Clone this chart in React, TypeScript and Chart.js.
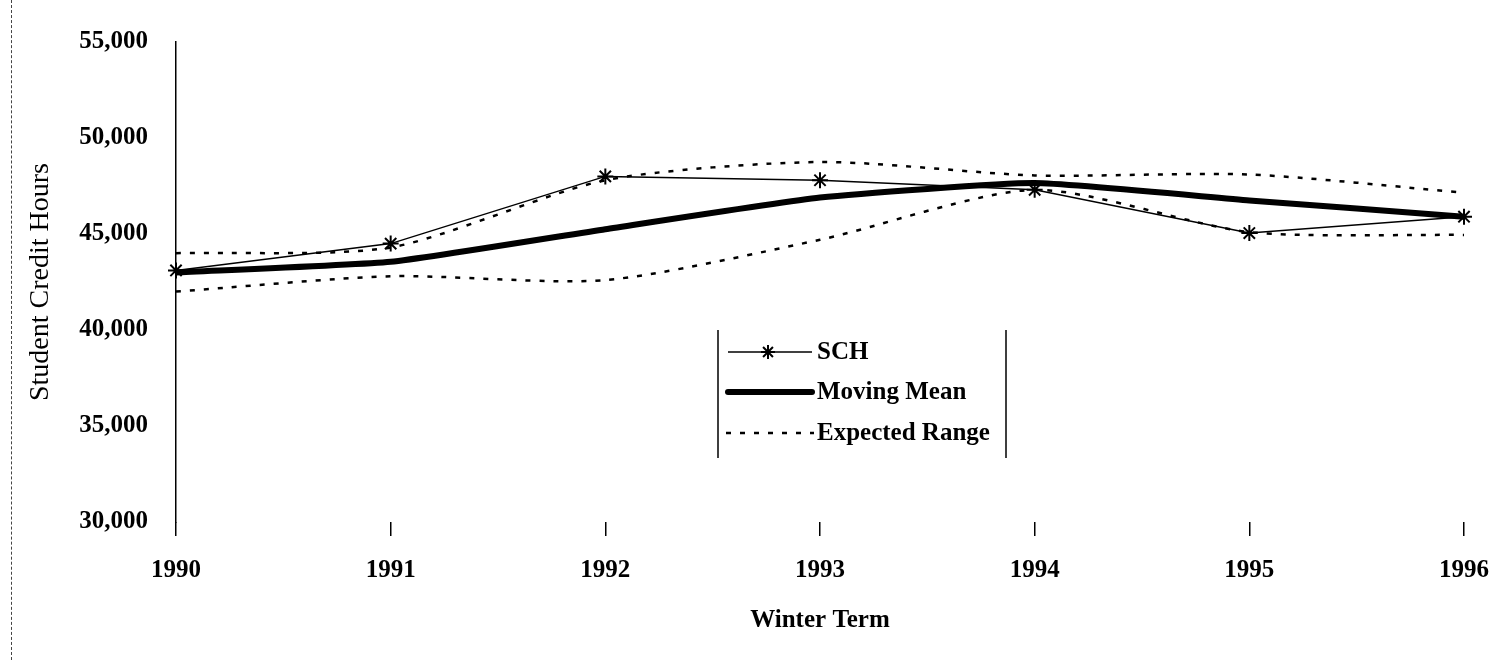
import React, { useEffect, useRef } from "react";
import { Chart, registerables } from "chart.js";

Chart.register(...registerables);

const years = ["1990", "1991", "1992", "1993", "1994", "1995", "1996"];
const sch = [43100, 44500, 48000, 47800, 47300, 45050, 45900];
const movingMean = [43000, 43550, 45250, 46900, 47650, 46750, 45900];
const upperRange = [44000, 44300, 47800, 48750, 48050, 48100, 47150];
const lowerRange = [42000, 42800, 42600, 44700, 47300, 45100, 44950];
const yTicks = [30000, 35000, 40000, 45000, 50000, 55000];
const legendLabels = ["SCH", "Moving Mean", "Expected Range"];

const FONT = "'Liberation Serif', 'DejaVu Serif', serif";

const legendPlugin = {
  id: "boxLegend",
  afterDraw(chart: any) {
    const ctx = chart.ctx;
    ctx.save();
    ctx.strokeStyle = "#000";
    ctx.lineWidth = 1.5;
    ctx.beginPath();
    ctx.moveTo(718, 330);
    ctx.lineTo(718, 458);
    ctx.moveTo(1006, 330);
    ctx.lineTo(1006, 458);
    ctx.stroke();

    const rows = [352, 392, 433];
    // SCH
    ctx.lineWidth = 1.5;
    ctx.beginPath();
    ctx.moveTo(728, rows[0]);
    ctx.lineTo(812, rows[0]);
    ctx.stroke();
    ctx.lineWidth = 2;
    const cx = 768, cy = rows[0], r = 7;
    ctx.beginPath();
    for (let i = 0; i < 4; i++) {
      const a = (i * Math.PI) / 4;
      ctx.moveTo(cx - r * Math.cos(a), cy - r * Math.sin(a));
      ctx.lineTo(cx + r * Math.cos(a), cy + r * Math.sin(a));
    }
    ctx.stroke();
    // Moving mean
    ctx.lineWidth = 6;
    ctx.lineCap = "round";
    ctx.beginPath();
    ctx.moveTo(728, rows[1]);
    ctx.lineTo(812, rows[1]);
    ctx.stroke();
    ctx.lineCap = "butt";
    // Expected range
    ctx.lineWidth = 2.5;
    ctx.setLineDash([5, 9]);
    ctx.beginPath();
    ctx.moveTo(726, rows[2]);
    ctx.lineTo(814, rows[2]);
    ctx.stroke();
    ctx.setLineDash([]);

    ctx.fillStyle = "#000";
    ctx.font = `bold 25px ${FONT}`;
    ctx.textBaseline = "middle";
    ctx.textAlign = "left";
    legendLabels.forEach((t, i) => ctx.fillText(t, 817, rows[i] + 1));
    ctx.restore();
  },
};

export default function App() {
  const ref = useRef<HTMLCanvasElement>(null);

  useEffect(() => {
    document.body.style.margin = "0";
    const canvas = ref.current!;
    const chart = new Chart(canvas, {
      type: "line",
      data: {
        labels: years,
        datasets: [
          {
            label: "Expected Range Upper",
            data: upperRange,
            borderColor: "#000",
            borderWidth: 2.5,
            borderDash: [5, 9],
            pointRadius: 0,
            tension: 0.25,
            fill: false,
          },
          {
            label: "Expected Range Lower",
            data: lowerRange,
            borderColor: "#000",
            borderWidth: 2.5,
            borderDash: [5, 9],
            pointRadius: 0,
            tension: 0.25,
            fill: false,
          },
          {
            label: "Moving Mean",
            data: movingMean,
            borderColor: "#000",
            borderWidth: 6,
            pointRadius: 0,
            tension: 0.15,
            fill: false,
          },
          {
            label: "SCH",
            data: sch,
            borderColor: "#000",
            backgroundColor: "#000",
            borderWidth: 1.5,
            pointStyle: "star",
            pointRadius: 8,
            pointBorderWidth: 2,
            pointBorderColor: "#000",
            tension: 0,
            fill: false,
          },
        ],
      },
      options: {
        animation: false,
        responsive: false,
        devicePixelRatio: 1,
        layout: { padding: { top: 42, right: 37, left: 0, bottom: 0 } },
        plugins: {
          legend: { display: false },
          tooltip: { enabled: false },
        },
        scales: {
          x: {
            type: "category",
            offset: false,
            grid: {
              display: true,
              drawOnChartArea: false,
              drawTicks: true,
              tickLength: 14,
              color: "#000",
              lineWidth: 1.5,
            },
            border: { display: false },
            ticks: {
              color: "#000",
              padding: 20,
              maxRotation: 0,
              autoSkip: false,
              font: { family: FONT, size: 25, weight: "bold" },
            },
            title: {
              display: true,
              text: "Winter Term",
              color: "#000",
              font: { family: FONT, size: 25, weight: "bold" },
              padding: { top: 0, bottom: 24 },
            },
            afterFit(scale: any) {
              scale.height = 138;
              scale.paddingLeft = 0;
              scale.paddingRight = 0;
            },
          },
          y: {
            min: 30000,
            max: 55000,
            afterBuildTicks(scale: any) {
              scale.ticks = yTicks.map((v) => ({ value: v }));
            },
            grid: {
              display: true,
              drawOnChartArea: false,
              drawTicks: false,
            },
            border: { display: true, color: "#000", width: 1.5 },
            ticks: {
              color: "#000",
              padding: 28,
              font: { family: FONT, size: 25, weight: "bold" },
              callback: (v: any) => Number(v).toLocaleString("en-US"),
            },
            title: {
              display: true,
              text: "Student Credit Hours",
              color: "#000",
              font: { family: FONT, size: 28, weight: "normal" },
              padding: { top: 24, bottom: 0 },
            },
            afterFit(scale: any) {
              scale.width = 176;
              scale.paddingTop = 0;
              scale.paddingBottom = 0;
            },
          },
        },
      },
      plugins: [legendPlugin],
    });
    return () => chart.destroy();
  }, []);

  return (
    <div style={{ position: "relative", width: 1501, height: 660, background: "#fff" }}>
      <div
        style={{
          position: "absolute",
          left: 11,
          top: 0,
          width: 0,
          height: 660,
          borderLeft: "1px dashed #444",
        }}
      />
      <canvas ref={ref} width={1501} height={660} style={{ display: "block" }} />
    </div>
  );
}
